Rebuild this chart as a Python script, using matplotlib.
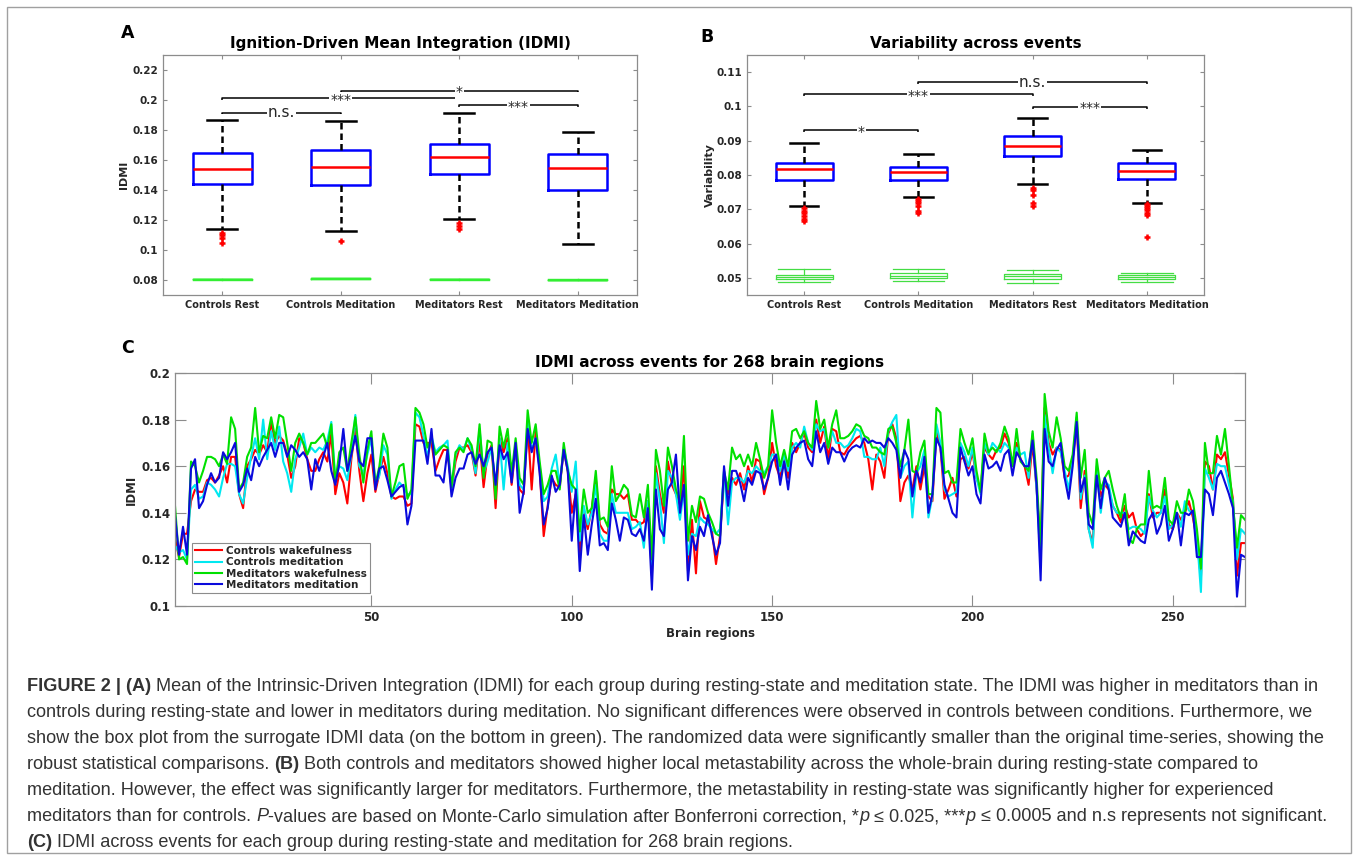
import numpy as np
import matplotlib
matplotlib.use("Agg")
import matplotlib.pyplot as plt
from matplotlib import font_manager
from matplotlib.ticker import FuncFormatter
from matplotlib.patches import Rectangle

# ---------------- data ----------------
groups = ["Controls Rest", "Controls Meditation", "Meditators Rest", "Meditators Meditation"]

# panel A: IDMI box plots
idmi_whislo = [0.1140, 0.1129, 0.1204, 0.1040]
idmi_q1 = [0.1440, 0.1436, 0.1504, 0.1398]
idmi_med = [0.1542, 0.1556, 0.1622, 0.1549]
idmi_q3 = [0.1647, 0.1669, 0.1709, 0.1640]
idmi_whishi = [0.1869, 0.1858, 0.1916, 0.1789]
idmi_fliers = [[0.111, 0.110, 0.108, 0.105], [0.106], [0.118, 0.116, 0.114], []]
# surrogate IDMI (green)
sur_idmi_lo = [0.0803, 0.0809, 0.0803, 0.0800]
sur_idmi_q1 = [0.0804, 0.0810, 0.0804, 0.0801]
sur_idmi_med = [0.0805, 0.0811, 0.0805, 0.0802]
sur_idmi_q3 = [0.0806, 0.0812, 0.0806, 0.0803]
sur_idmi_hi = [0.0807, 0.0813, 0.0807, 0.0804]
idmi_ticks = [0.08, 0.10, 0.12, 0.14, 0.16, 0.18, 0.20, 0.22]
idmi_sig = [(1, 2, "n.s.", 0.1916), (1, 3, "***", 0.2011), (2, 4, "*", 0.2062), (3, 4, "***", 0.1964)]

# panel B: variability box plots
var_whislo = [0.0710, 0.0736, 0.0774, 0.0718]
var_q1 = [0.0784, 0.0786, 0.0856, 0.0788]
var_med = [0.0818, 0.0808, 0.0885, 0.0813]
var_q3 = [0.0836, 0.0823, 0.0913, 0.0835]
var_whishi = [0.0893, 0.0860, 0.0965, 0.0873]
var_fliers = [[0.0703, 0.0695, 0.0688, 0.0680, 0.0672, 0.0665],
              [0.0729, 0.0725, 0.0718, 0.0710, 0.0695, 0.0690],
              [0.0761, 0.0756, 0.0742, 0.0717, 0.0710],
              [0.0715, 0.0710, 0.0703, 0.0697, 0.0690, 0.0683, 0.0618]]
sur_var_lo = [0.0487, 0.0492, 0.0485, 0.0487]
sur_var_q1 = [0.0498, 0.0500, 0.0498, 0.0496]
sur_var_med = [0.0503, 0.0506, 0.0505, 0.0502]
sur_var_q3 = [0.0509, 0.0513, 0.0510, 0.0508]
sur_var_hi = [0.0525, 0.0525, 0.0524, 0.0515]
var_ticks = [0.05, 0.06, 0.07, 0.08, 0.09, 0.10, 0.11]
var_sig = [(1, 2, "*", 0.0930), (1, 3, "***", 0.1035), (2, 4, "n.s.", 0.1071), (3, 4, "***", 0.0999)]

# panel C: IDMI per brain region (x 1000), regions 1..268
ctrl_wake = [129,121,131,131,145,150,149,149,154,155,153,156,160,153,164,164,148,142,160,163,
             167,165,169,166,179,170,173,171,165,155,160,172,170,163,158,158,163,166,162,174,
             148,157,153,144,163,176,158,145,157,165,149,157,164,157,147,146,147,147,143,144,
             178,177,170,170,170,158,163,167,167,150,162,168,168,169,166,156,171,151,165,169,
             142,172,166,172,152,168,150,148,178,150,175,158,130,143,155,152,151,167,158,140,
             148,123,140,133,142,155,135,132,131,150,148,148,146,148,137,137,135,136,145,113,
             160,148,140,162,152,148,143,160,115,137,114,145,138,137,132,118,130,155,148,155,
             152,157,150,160,153,163,162,148,155,170,160,155,164,155,170,166,170,174,168,166,
             180,170,177,163,176,175,166,165,168,170,172,173,170,163,150,165,162,155,174,178,
             172,145,153,156,150,160,150,160,147,145,175,168,146,150,155,147,163,164,159,166,
             155,150,168,165,163,167,168,174,170,160,170,163,160,152,170,150,125,185,170,165,
             168,167,155,156,163,178,142,158,133,127,158,147,152,150,143,140,136,143,138,140,
             133,130,132,148,138,140,140,150,135,133,140,137,140,145,138,128,112,162,160,150,
             165,163,166,156,146,113,127,127]
ctrl_med = [126,123,124,120,150,152,146,147,153,152,150,147,155,161,161,160,148,144,155,164,
            172,163,180,163,175,167,177,162,157,149,163,168,174,165,168,166,168,167,171,179,
            155,160,159,154,165,182,160,157,165,172,152,156,169,165,146,150,153,151,148,148,
            183,181,173,164,173,166,168,169,171,150,165,169,167,172,167,157,176,157,162,168,
            151,172,150,170,155,168,152,150,179,167,172,160,145,147,159,165,152,168,160,149,
            162,128,143,135,140,152,131,128,128,148,140,140,140,140,133,134,136,125,145,115,
            157,145,127,158,155,148,137,150,122,131,130,138,136,135,133,131,133,158,135,153,
            155,155,153,158,157,160,158,157,160,165,165,158,165,158,168,170,168,177,170,167,
            178,175,176,168,175,170,170,168,169,172,176,175,164,164,163,163,168,160,175,179,
            182,155,160,162,138,157,160,167,138,147,178,170,150,147,148,149,170,166,160,168,
            155,148,170,165,170,168,166,170,168,162,168,165,166,155,174,150,118,182,168,157,
            168,166,158,150,163,181,146,156,133,125,160,140,153,152,143,140,140,140,133,134,
            134,133,131,147,141,138,140,147,133,135,140,134,145,141,140,130,106,159,155,150,
            161,160,160,152,145,120,133,131]
medi_wake = [143,120,121,118,162,160,153,158,164,164,163,160,165,161,181,176,150,153,164,168,
             185,166,173,172,181,172,182,181,170,158,170,174,170,165,170,170,172,174,168,178,
             153,166,168,158,170,181,165,153,167,175,152,160,174,168,147,153,160,161,146,150,
             185,183,178,168,172,165,167,169,168,151,166,168,166,172,169,160,178,155,171,170,
             146,177,168,176,157,172,155,152,184,170,178,162,148,152,158,158,150,170,158,152,
             150,132,150,140,142,158,137,138,134,160,145,148,152,150,139,138,148,138,152,120,
             167,158,143,168,160,150,145,173,128,143,136,147,146,140,136,131,130,158,150,168,
             163,165,160,165,160,170,163,155,160,184,170,160,167,160,175,176,172,175,170,168,
             188,176,180,168,178,184,172,172,173,175,178,177,173,172,168,168,166,165,176,177,
             170,160,167,180,158,157,166,171,148,148,185,183,157,158,153,153,176,170,165,172,
             158,149,174,166,168,166,170,177,172,160,176,162,160,158,175,155,125,191,175,168,
             181,172,160,158,165,183,155,167,140,135,163,150,155,158,150,143,138,148,129,127,
             133,135,135,158,142,143,142,155,137,135,145,140,140,150,145,133,116,170,157,157,
             173,165,176,160,143,125,139,137]
medi_med = [139,122,134,122,159,163,142,145,152,157,153,155,166,163,166,170,149,152,159,154,
            164,160,164,167,170,164,170,170,164,169,167,164,166,163,150,163,158,164,170,158,
            152,161,176,158,165,173,162,160,172,172,150,159,160,154,147,149,151,152,135,143,
            171,171,171,161,176,156,156,153,167,147,155,159,159,165,166,161,165,160,166,168,
            152,169,163,166,153,170,140,149,176,166,172,157,135,142,156,149,152,167,158,128,
            150,115,139,122,135,146,126,127,124,144,137,128,138,137,131,130,133,128,142,107,
            150,133,130,150,153,165,140,152,111,130,124,134,130,139,130,122,127,160,143,158,
            158,153,145,155,152,158,157,150,155,162,165,152,162,150,165,168,170,171,163,160,
            175,166,170,161,168,166,166,162,166,168,169,168,172,170,171,170,170,168,172,170,
            167,155,167,163,147,158,153,164,140,148,172,168,152,146,140,138,168,162,156,160,
            148,144,165,159,160,162,158,165,167,156,166,163,160,160,171,152,111,176,162,160,
            167,170,155,146,160,179,149,155,135,133,156,142,155,150,138,136,134,140,126,132,
            130,128,127,137,140,131,135,143,128,133,140,126,140,139,141,121,121,150,148,139,
            155,158,153,148,142,104,122,121]
regions = np.arange(1, len(ctrl_wake) + 1)
region_ticks = [50, 100, 150, 200, 250]
region_yticks = [0.10, 0.12, 0.14, 0.16, 0.18, 0.20]

# ---------------- figure ----------------
W, H = 1358, 860
fig = plt.figure(figsize=(W / 100, H / 100), dpi=100)
fig.patch.set_facecolor("white")
TXT = "#262626"
AX = "#8c8c8c"


def px_axes(l, t, r, b):
    return fig.add_axes([l / W, 1 - b / H, (r - l) / W, (b - t) / H])


fmt = FuncFormatter(lambda v, p: "%g" % round(v, 4))


def style_axes(ax, ticklen, labsize):
    for s in ax.spines.values():
        s.set_color(AX)
        s.set_linewidth(0.9)
    ax.tick_params(direction="in", top=True, right=True, length=ticklen, width=0.8,
                   color=AX, labelcolor=TXT, labelsize=labsize)
    for lab in ax.get_xticklabels() + ax.get_yticklabels():
        lab.set_fontweight("bold")


def stats(lo, q1, med, q3, hi, fl=None):
    out = []
    for i in range(len(lo)):
        out.append(dict(whislo=lo[i], q1=q1[i], med=med[i], q3=q3[i], whishi=hi[i],
                        fliers=fl[i] if fl is not None else []))
    return out


def draw_boxes(ax, main, sur, sur_lw, sur_cap, sur_col):
    pos = np.arange(1, len(groups) + 1)
    ax.bxp(main, positions=pos, widths=0.5, capwidths=0.25, showfliers=True,
           boxprops=dict(color="#0000ff", lw=1.8),
           medianprops=dict(color="#ff0000", lw=1.8),
           whiskerprops=dict(color="black", lw=1.8, ls=(0, (2.6, 1.6))),
           capprops=dict(color="black", lw=1.8),
           flierprops=dict(marker="+", markeredgecolor="#ff0000", markersize=5,
                           markeredgewidth=1.8, linestyle="none"))
    ax.bxp(sur, positions=pos, widths=0.5, capwidths=sur_cap, showfliers=False,
           boxprops=dict(color=sur_col, lw=sur_lw),
           medianprops=dict(color=sur_col, lw=sur_lw),
           whiskerprops=dict(color=sur_col, lw=sur_lw, ls="-"),
           capprops=dict(color=sur_col, lw=sur_lw))
    ax.set_xlim(0.5, 4.5)
    ax.set_xticks(pos)
    ax.set_xticklabels(groups)


def draw_sig(ax, sig, drop, size_ns, size_star):
    for a, b, lab, y in sig:
        ax.plot([a, a, b, b], [y - drop, y, y, y - drop], color="black", lw=1.1,
                solid_capstyle="butt", zorder=3)
        big = lab == "n.s."
        ax.text((a + b) / 2, y, lab, ha="center", va="center" if big else "center_baseline",
                fontsize=size_ns if big else size_star, color=TXT, zorder=4,
                bbox=dict(facecolor="white", edgecolor="none", pad=0.6))


# panel A
axA = px_axes(163, 55, 637, 295)
draw_boxes(axA, stats(idmi_whislo, idmi_q1, idmi_med, idmi_q3, idmi_whishi, idmi_fliers),
           stats(sur_idmi_lo, sur_idmi_q1, sur_idmi_med, sur_idmi_q3, sur_idmi_hi), 1.0, 0.5,
           "#33ee33")
draw_sig(axA, idmi_sig, 0.0012, 11, 10)
axA.set_ylim(0.07, 0.23)
axA.set_yticks(idmi_ticks)
axA.yaxis.set_major_formatter(fmt)
style_axes(axA, 3, 7.5)
for lab in axA.get_xticklabels():
    lab.set_fontsize(7)
axA.set_ylabel("IDMI", fontsize=8, fontweight="bold", color=TXT, labelpad=2)
axA.set_title("Ignition-Driven Mean Integration (IDMI)", fontsize=11, fontweight="bold",
              color="black", pad=5)

# panel B
axB = px_axes(747, 55, 1204, 295)
draw_boxes(axB, stats(var_whislo, var_q1, var_med, var_q3, var_whishi, var_fliers),
           stats(sur_var_lo, sur_var_q1, sur_var_med, sur_var_q3, sur_var_hi), 0.9, 0.45,
           "#44dd44")
draw_sig(axB, var_sig, 0.0006, 11, 10)
axB.set_ylim(0.045, 0.115)
axB.set_yticks(var_ticks)
axB.yaxis.set_major_formatter(fmt)
style_axes(axB, 3, 7.5)
for lab in axB.get_xticklabels():
    lab.set_fontsize(7)
axB.set_ylabel("Variability", fontsize=8, fontweight="bold", color=TXT, labelpad=1)
axB.set_title("Variability across events", fontsize=11, fontweight="bold", color="black", pad=5)

# panel C
axC = px_axes(175, 373, 1245, 606)
series = [(ctrl_wake, "#ff0000", "Controls wakefulness"),
          (ctrl_med, "#00e8f0", "Controls meditation"),
          (medi_wake, "#00e000", "Meditators wakefulness"),
          (medi_med, "#0a0adc", "Meditators meditation")]
for vals, col, lab in series:
    axC.plot(regions, np.array(vals) / 1000.0, color=col, lw=1.5, label=lab)
axC.set_xlim(1, 268)
axC.set_ylim(0.1, 0.2)
axC.set_xticks(region_ticks)
axC.set_yticks(region_yticks)
axC.yaxis.set_major_formatter(fmt)
style_axes(axC, 8, 8.5)
axC.set_xlabel("Brain regions", fontsize=8.5, fontweight="bold", color=TXT, labelpad=2)
axC.set_ylabel("IDMI", fontsize=8.5, fontweight="bold", color=TXT, labelpad=2)
axC.set_title("IDMI across events for 268 brain regions", fontsize=11, fontweight="bold",
              color="black", pad=4)
leg = axC.legend(loc="lower left", bbox_to_anchor=(0.0156, 0.056), borderaxespad=0,
                 fancybox=False, framealpha=1, edgecolor="#8c8c8c",
                 prop=dict(weight="bold", size=7.5), handlelength=2.6, handletextpad=0.4,
                 labelspacing=0.12, borderpad=0.3)
leg.get_frame().set_linewidth(0.8)
for t in leg.get_texts():
    t.set_color(TXT)

# panel letters
for lab, x, y in [("A", 128, 33), ("B", 707, 37), ("C", 128, 348)]:
    fig.text(x / W, 1 - y / H, lab, fontsize=12.5, fontweight="bold", ha="center",
             va="center", color="black")

# outer frame
fig.patches.append(Rectangle((7 / W, 7 / H), 1344 / W, 846 / H, transform=fig.transFigure,
                             fill=False, edgecolor="#a0a0a0", lw=1.0))

# ---------------- caption ----------------
cap_font = "Liberation Sans"
try:
    font_manager.findfont(font_manager.FontProperties(family="Liberation Sans Narrow"),
                          fallback_to_default=False)
    cap_font = "Liberation Sans Narrow"
except Exception:
    pass
fam = [cap_font, "DejaVu Sans"]
CAPC = "#333333"

cap_lines = [
    [("FIGURE 2 | (A)", "bold"), (" Mean of the Intrinsic-Driven Integration (IDMI) for each group during resting-state and meditation state. The IDMI was higher in meditators than in", "normal")],
    [("controls during resting-state and lower in meditators during meditation. No significant differences were observed in controls between conditions. Furthermore, we", "normal")],
    [("show the box plot from the surrogate IDMI data (on the bottom in green). The randomized data were significantly smaller than the original time-series, showing the", "normal")],
    [("robust statistical comparisons. ", "normal"), ("(B)", "bold"), (" Both controls and meditators showed higher local metastability across the whole-brain during resting-state compared to", "normal")],
    [("meditation. However, the effect was significantly larger for meditators. Furthermore, the metastability in resting-state was significantly higher for experienced", "normal")],
    [("meditators than for controls. ", "normal"), ("P", "italic"), ("-values are based on Monte-Carlo simulation after Bonferroni correction, *", "normal"),
     ("p", "italic"), (" \u2264 0.025, ***", "normal"), ("p", "italic"), (" \u2264 0.0005 and n.s represents not significant.", "normal")],
    [("(C)", "bold"), (" IDMI across events for each group during resting-state and meditation for 268 brain regions.", "normal")],
]

renderer = fig.canvas.get_renderer()


def text_w(s, size, **kw):
    t = fig.text(0, 0, s, fontsize=size, family=fam, **kw)
    w = t.get_window_extent(renderer).width
    t.remove()
    return w


# size the caption so that its longest line fits the width of the reference text block
widest = max(text_w("".join(s for s, _ in parts), 13.0) for parts in cap_lines)
cap_size = 13.0 * 1300.0 / widest
space_w = text_w("n n", cap_size) - text_w("nn", cap_size)

for i, parts in enumerate(cap_lines):
    x = 27.0
    y = 691 + 26 * i
    for s, st in parts:
        lead = len(s) - len(s.lstrip(" "))
        trail = len(s) - len(s.rstrip(" "))
        x += lead * space_w
        kw = dict(fontsize=cap_size, family=fam, color=CAPC, ha="left", va="baseline")
        if st == "bold":
            kw["fontweight"] = "bold"
        elif st == "italic":
            kw["fontstyle"] = "italic"
        t = fig.text(x / W, 1 - y / H, s.strip(" "), **kw)
        x = t.get_window_extent(renderer).x1 + trail * space_w

fig.savefig("out.png", dpi=100)
